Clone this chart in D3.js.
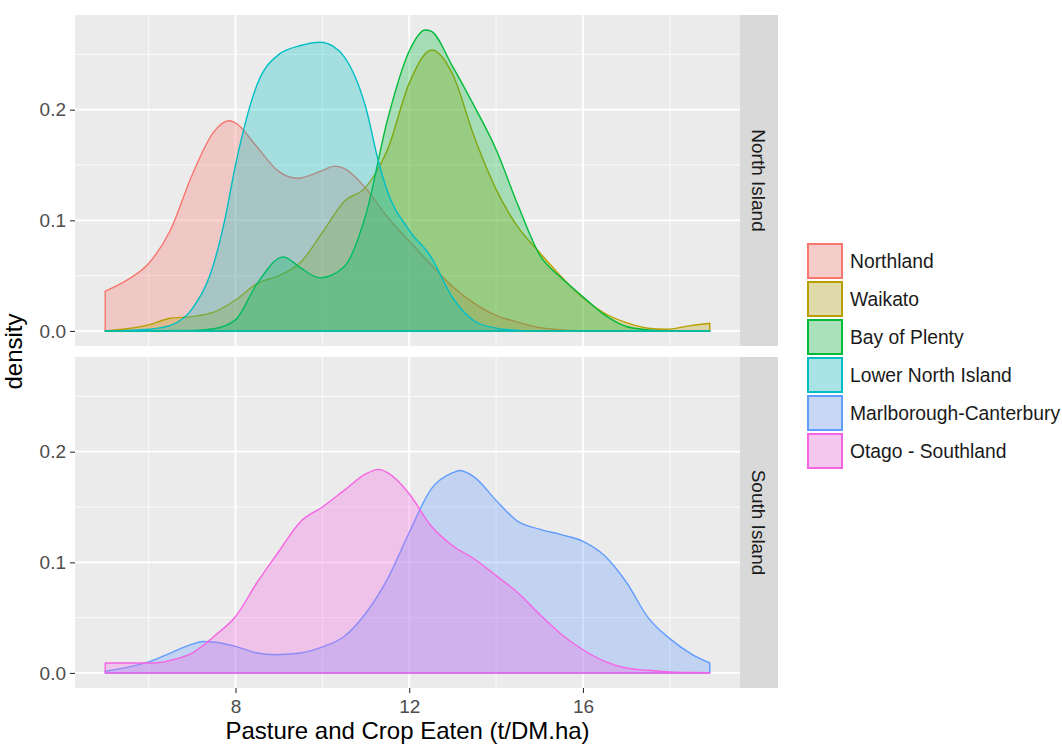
<!DOCTYPE html>
<html>
<head>
<meta charset="utf-8">
<script src="https://cdn.jsdelivr.net/npm/d3@7"></script>
<style>
  body { margin: 0; background: #fff; }
  svg { display: block; font-family: "Liberation Sans", Arial, sans-serif; }
</style>
</head>
<body>
<div id="wrap"></div>
<script>

// regions, in legend order
var regions = ["Northland", "Waikato", "Bay of Plenty", "Lower North Island",
               "Marlborough-Canterbury", "Otago - Southland"];

var islands = ["North Island", "South Island"];

// which island each region belongs to
var regionIsland = ["North Island", "North Island", "North Island", "North Island",
                    "South Island", "South Island"];

// density curves, [pasture eaten, density]
var northland = [[5.0,0.036],[5.5,0.046],[6.0,0.061],[6.5,0.091],[7.0,0.141],[7.5,0.180],
  [7.85,0.190],[8.0,0.188],[8.5,0.166],[9.0,0.144],[9.42,0.138],[10.0,0.145],[10.28,0.149],
  [10.5,0.147],[11.0,0.129],[11.5,0.103],[12.0,0.081],[12.5,0.060],[13.0,0.040],[13.5,0.025],
  [14.0,0.014],[14.5,0.008],[15.0,0.003],[15.5,0.001],[16.0,0.0003],[17.0,0],[18.92,0]];

var waikato = [[5.0,0],[5.5,0.002],[6.0,0.0055],[6.5,0.0115],[7.0,0.013],[7.5,0.017],
  [8.0,0.028],[8.5,0.043],[9.0,0.050],[9.5,0.062],[10.0,0.089],[10.5,0.117],[11.0,0.130],
  [11.33,0.150],[11.5,0.164],[12.0,0.224],[12.52,0.254],[13.0,0.232],[13.5,0.175],
  [14.0,0.128],[14.5,0.094],[15.0,0.071],[15.5,0.049],[16.0,0.030],[16.5,0.016],
  [17.0,0.0075],[17.5,0.0025],[17.9,0.0015],[18.5,0.005],[18.92,0.007]];

var bayOfPlenty = [[5.0,0],[7.0,0.0005],[7.5,0.002],[8.0,0.010],[8.5,0.043],[9.1,0.067],
  [9.5,0.057],[9.95,0.048],[10.5,0.058],[11.0,0.105],[11.5,0.191],[12.0,0.253],[12.37,0.272],
  [12.5,0.271],[13.0,0.239],[13.5,0.203],[14.0,0.164],[14.5,0.114],[15.0,0.069],[15.5,0.048],
  [16.0,0.031],[16.5,0.0145],[17.0,0.004],[17.5,0.001],[18.0,0],[18.92,0]];

var lowerNorth = [[5.0,0],[5.5,0.0005],[6.0,0.0015],[6.5,0.005],[7.0,0.020],[7.5,0.061],
  [7.75,0.100],[8.0,0.150],[8.5,0.223],[9.0,0.250],[9.5,0.258],[9.95,0.261],[10.26,0.257],
  [10.5,0.248],[11.0,0.202],[11.3,0.152],[11.5,0.126],[12.0,0.091],[12.5,0.067],[13.0,0.030],
  [13.5,0.009],[14.0,0.0025],[14.5,0.0005],[15.0,0],[18.92,0]];

var marlborough = [[5.0,0.0015],[5.5,0.005],[6.0,0.010],[6.5,0.018],[7.0,0.026],[7.25,0.0285],
  [7.5,0.028],[8.0,0.024],[8.5,0.018],[8.9,0.0165],[9.5,0.018],[10.0,0.0235],[10.5,0.033],
  [11.0,0.054],[11.5,0.085],[12.0,0.127],[12.5,0.166],[13.0,0.181],[13.17,0.183],[13.5,0.177],
  [14.0,0.156],[14.5,0.137],[15.0,0.130],[15.5,0.125],[16.0,0.119],[16.5,0.106],[17.0,0.082],
  [17.5,0.050],[18.0,0.031],[18.5,0.017],[18.92,0.009]];

var otago = [[5.0,0.009],[5.5,0.009],[6.0,0.009],[6.25,0.0095],[6.5,0.0114],[7.0,0.018],
  [7.5,0.033],[8.0,0.051],[8.5,0.082],[9.0,0.110],[9.5,0.137],[10.0,0.150],[10.5,0.165],
  [11.0,0.180],[11.3,0.184],[11.5,0.181],[12.0,0.162],[12.5,0.133],[13.0,0.115],[13.5,0.103],
  [14.0,0.088],[14.5,0.0725],[15.0,0.053],[15.5,0.035],[16.0,0.021],[16.5,0.0105],[17.0,0.0045],
  [17.5,0.0024],[18.0,0.001],[18.5,0.0005],[18.92,0.0003]];

var curves = [northland, waikato, bayOfPlenty, lowerNorth, marlborough, otago];

var xTicks = [8, 12, 16];
var xMinor = [6, 10, 14, 18];
var yTicks = [0, 0.1, 0.2];
var yMinor = [0.05, 0.15, 0.25];

var xTitle = "Pasture and Crop Eaten (t/DM.ha)";
var yTitle = "density";


var W = 1062, H = 745;
var panelLeft = 75, panelRight = 740, stripW = 38;
var panelTops = [15, 357], panelH = 331;
var tickFont = "19px", titleFont = "24px";

var colour = d3.scaleOrdinal()
    .domain(regions)
    .range(["#F8766D", "#B79F00", "#00BA38", "#00BFC4", "#619CFF", "#F564E3"]);

// ggplot style 5% expansion round the data
var xExt = [d3.min(curves, function(c) { return c[0][0]; }),
            d3.max(curves, function(c) { return c[c.length - 1][0]; })];
var yMax = d3.max(curves, function(c) { return d3.max(c, function(p) { return p[1]; }); });
var xPad = (xExt[1] - xExt[0]) * 0.05, yPad = yMax * 0.05;

var x = d3.scaleLinear()
    .domain([xExt[0] - xPad, xExt[1] + xPad])
    .range([panelLeft, panelRight]);

var svg = d3.select("#wrap").append("svg")
    .attr("width", W)
    .attr("height", H);

islands.forEach(function(island, pi) {

    var top = panelTops[pi];
    var y = d3.scaleLinear()
        .domain([-yPad, yMax + yPad])
        .range([top + panelH, top]);

    var g = svg.append("g");

    g.append("rect")
        .attr("x", panelLeft).attr("y", top)
        .attr("width", panelRight - panelLeft).attr("height", panelH)
        .attr("fill", "#EBEBEB");

    // minor grid
    g.selectAll(".ym").data(yMinor).enter().append("line")
        .attr("x1", panelLeft).attr("x2", panelRight)
        .attr("y1", y).attr("y2", y)
        .attr("stroke", "#fff").attr("stroke-width", 0.8);
    g.selectAll(".xm").data(xMinor).enter().append("line")
        .attr("y1", top).attr("y2", top + panelH)
        .attr("x1", x).attr("x2", x)
        .attr("stroke", "#fff").attr("stroke-width", 0.8);

    // major grid
    g.selectAll(".yM").data(yTicks).enter().append("line")
        .attr("x1", panelLeft).attr("x2", panelRight)
        .attr("y1", y).attr("y2", y)
        .attr("stroke", "#fff").attr("stroke-width", 1.8);
    g.selectAll(".xM").data(xTicks).enter().append("line")
        .attr("y1", top).attr("y2", top + panelH)
        .attr("x1", x).attr("x2", x)
        .attr("stroke", "#fff").attr("stroke-width", 1.8);

    var area = d3.area()
        .curve(d3.curveMonotoneX)
        .x(function(d) { return x(d[0]); })
        .y0(y(0))
        .y1(function(d) { return y(d[1]); });

    regions.forEach(function(r, i) {
        if (regionIsland[i] !== island) return;
        g.append("path")
            .attr("d", area(curves[i]))
            .attr("fill", colour(r))
            .attr("fill-opacity", 0.3)
            .attr("stroke", colour(r))
            .attr("stroke-width", 1.4)
            .attr("stroke-linejoin", "round");
    });

    // y axis
    var yAxis = g.append("g")
        .attr("transform", "translate(" + panelLeft + ",0)")
        .call(d3.axisLeft(y).tickValues(yTicks).tickSize(5).tickPadding(4)
            .tickFormat(d3.format(".1f")));
    yAxis.select(".domain").remove();
    yAxis.selectAll("line").attr("stroke", "#333").attr("stroke-width", 1.1);
    yAxis.selectAll("text")
        .attr("fill", "#4D4D4D")
        .style("font-size", tickFont)
        .style("font-family", "Liberation Sans, Arial, sans-serif");

    // strip
    g.append("rect")
        .attr("x", panelRight).attr("y", top)
        .attr("width", stripW).attr("height", panelH)
        .attr("fill", "#D9D9D9");
    g.append("text")
        .attr("transform", "translate(" + (panelRight + stripW / 2) + "," + (top + panelH / 2) + ") rotate(90)")
        .attr("text-anchor", "middle")
        .attr("dy", "0.35em")
        .attr("fill", "#1A1A1A")
        .style("font-size", tickFont)
        .text(island);

    if (pi === islands.length - 1) {
        var xAxis = g.append("g")
            .attr("transform", "translate(0," + (top + panelH) + ")")
            .call(d3.axisBottom(x).tickValues(xTicks).tickSize(5).tickPadding(7));
        xAxis.select(".domain").remove();
        xAxis.selectAll("line").attr("stroke", "#333").attr("stroke-width", 1.1);
        xAxis.selectAll("text")
            .attr("fill", "#4D4D4D")
            .style("font-size", tickFont)
            .style("font-family", "Liberation Sans, Arial, sans-serif");
    }

});

// axis titles
svg.append("text")
    .attr("x", (panelLeft + panelRight) / 2)
    .attr("y", 739)
    .attr("text-anchor", "middle")
    .style("font-size", titleFont)
    .text(xTitle);

svg.append("text")
    .attr("transform", "translate(22," + ((panelTops[0] + panelTops[1] + panelH) / 2) + ") rotate(-90)")
    .attr("text-anchor", "middle")
    .style("font-size", titleFont)
    .text(yTitle);

// legend
var legend = svg.append("g").attr("transform", "translate(807,243)");
var rows = legend.selectAll("g").data(regions).enter().append("g")
    .attr("transform", function(d, i) { return "translate(0," + (i * 38) + ")"; });

rows.append("rect")
    .attr("x", 1).attr("y", 1)
    .attr("width", 34).attr("height", 34)
    .attr("fill", "#F2F2F2");
rows.append("rect")
    .attr("x", 1).attr("y", 1)
    .attr("width", 34).attr("height", 34)
    .attr("fill", function(d) { return colour(d); })
    .attr("fill-opacity", 0.3)
    .attr("stroke", function(d) { return colour(d); })
    .attr("stroke-width", 2);
rows.append("text")
    .attr("x", 43)
    .attr("y", 18)
    .attr("dy", "0.35em")
    .attr("fill", "#1A1A1A")
    .style("font-size", "19.3px")
    .text(function(d) { return d; });

</script>
</body>
</html>
